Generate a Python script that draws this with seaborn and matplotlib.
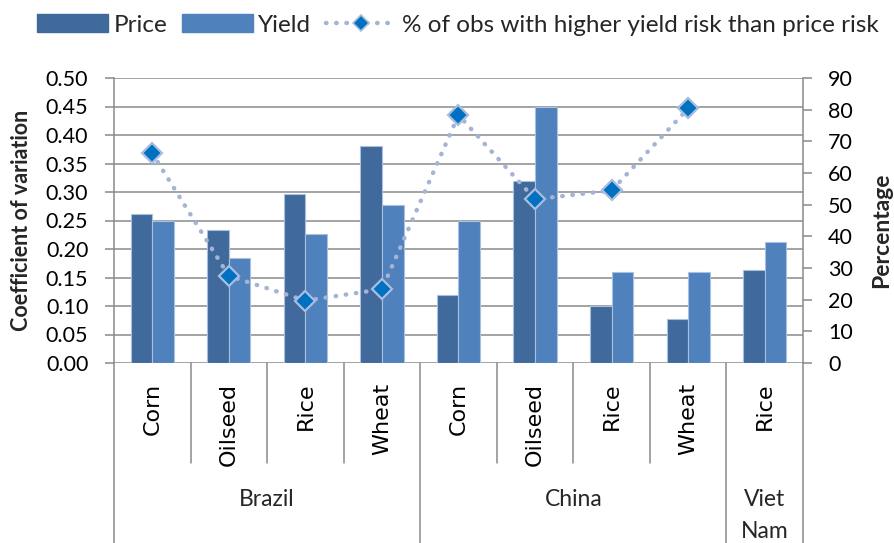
import numpy as np
import pandas as pd
import matplotlib
matplotlib.use("Agg")
import matplotlib.pyplot as plt
import matplotlib.transforms as mtransforms
from matplotlib.patches import Patch
from matplotlib.lines import Line2D
from matplotlib.font_manager import FontProperties
import seaborn as sns

# ---- data ----
countries = ["Brazil", "Brazil", "Brazil", "Brazil",
             "China", "China", "China", "China", "Viet Nam"]
crops = ["Corn", "Oilseed", "Rice", "Wheat",
         "Corn", "Oilseed", "Rice", "Wheat", "Rice"]
price_cv = [0.261, 0.233, 0.296, 0.380, 0.120, 0.320, 0.100, 0.078, 0.163]
yield_cv = [0.250, 0.184, 0.226, 0.278, 0.250, 0.450, 0.159, 0.159, 0.212]
pct_higher_yield = [66.2, 27.5, 19.7, 23.3, 78.3, 51.7, 54.5, 80.4, np.nan]
group_labels = ["Brazil", "China", "Viet\nNam"]
left_ticks = [0.00, 0.05, 0.10, 0.15, 0.20, 0.25, 0.30, 0.35, 0.40, 0.45, 0.50]
right_ticks = [0, 10, 20, 30, 40, 50, 60, 70, 80, 90]

sns.set_theme(style="white")
plt.rcParams["font.family"] = ["Lato", "DejaVu Sans"]

keys = [f"{c}|{k}" for c, k in zip(countries, crops)]
df = pd.DataFrame({
    "key": keys * 2,
    "cv": price_cv + yield_cv,
    "measure": ["Price"] * len(keys) + ["Yield"] * len(keys),
})

W, H = 895, 543
fig = plt.figure(figsize=(W / 100, H / 100), dpi=100)
ax_l, ax_r, ax_t, ax_b = 114, 803, 78, 363
ax = fig.add_axes([ax_l / W, 1 - ax_b / H, (ax_r - ax_l) / W, (ax_b - ax_t) / H])

c_price = "#40699c"
c_yield = "#4f81bd"
grid_c = "#8a8a8a"

sns.barplot(data=df, x="key", y="cv", hue="measure", order=keys,
            palette={"Price": c_price, "Yield": c_yield},
            width=0.565, dodge=True, ax=ax, legend=False,
            edgecolor="#a9c0e0", linewidth=0.8, saturation=1)

ax.set_xlim(-0.5, len(keys) - 0.5)
ax.set_ylim(0, 0.5)
ax.set_yticks(left_ticks)
ax.set_yticklabels([f"{v:.2f}" for v in left_ticks])
ax.set_xticks([])
ax.set_xlabel("")
ax.set_ylabel("")
ax.set_axisbelow(True)
ax.yaxis.grid(True, color=grid_c, linewidth=1.1)
for s in ["top", "bottom", "right"]:
    ax.spines[s].set_visible(False)
ax.spines["left"].set_color(grid_c)
ax.spines["left"].set_linewidth(1.1)
ax.tick_params(axis="y", which="both", left=True, length=6.5, width=1.1,
               color=grid_c, pad=12, labelsize=15.5, labelcolor="black")

ax2 = ax.twinx()
xpos = np.arange(len(keys))
ax2.plot(xpos, pct_higher_yield, linestyle=(0, (0.1, 2.2)), dash_capstyle="round",
         color="#a4b4d4", linewidth=3.2, marker="D", markersize=10.5,
         markerfacecolor="#0070c0", markeredgecolor="#a9bde0", markeredgewidth=1.6)
ax2.set_ylim(0, 90)
ax2.set_yticks(right_ticks)
ax2.set_yticklabels([str(v) for v in right_ticks])
ax2.grid(False)
for s in ["top", "bottom", "left"]:
    ax2.spines[s].set_visible(False)
ax2.spines["right"].set_visible(True)
ax2.spines["right"].set_color(grid_c)
ax2.spines["right"].set_linewidth(1.1)
ax2.tick_params(axis="y", which="both", right=True, length=6.5, width=1.1,
                color=grid_c, pad=11.5, labelsize=15.5, labelcolor="black")

# ---- hierarchical category axis ----
blend = mtransforms.blended_transform_factory(ax.transData, fig.transFigure)
fy = lambda px: 1 - px / H
line_kw = dict(color=grid_c, linewidth=1.1, transform=blend, clip_on=False)
dv = FontProperties(family="DejaVu Sans", size=16)

groups = []
for i, c in enumerate(countries):
    if not groups or groups[-1][0] != c:
        groups.append([c, i, i])
    else:
        groups[-1][2] = i

for i, crop in enumerate(crops):
    ax.text(i, fy(383), crop, rotation=90, ha="center", va="top",
            fontproperties=dv, transform=blend, color="black")

for gi, (g, a, b) in enumerate(groups):
    ax.add_line(Line2D([a - 0.5, a - 0.5], [fy(ax_b), fy(H)], **line_kw))
    for j in range(a + 1, b + 1):
        ax.add_line(Line2D([j - 0.5, j - 0.5], [fy(ax_b), fy(463)], **line_kw))
    lab = group_labels[gi]
    cx = (a + b) / 2
    if "\n" in lab:
        l1, l2 = lab.split("\n")
        ax.text(cx, fy(500), l1, ha="center", va="center", fontsize=16.5, transform=blend)
        ax.text(cx, fy(531), l2, ha="center", va="center", fontsize=16.5, transform=blend)
    else:
        ax.text(cx, fy(500), lab, ha="center", va="center", fontsize=16.5, transform=blend)
last = groups[-1][2] + 0.5
ax.add_line(Line2D([last, last], [fy(ax_b), fy(H)], **line_kw))

# ---- axis titles ----
fig.text(22 / W, fy(220), "Coefficient of variation", rotation=90, ha="center",
         va="center", fontsize=15.5, fontweight="bold")
fig.text(882 / W, fy(230), "Percentage", rotation=90, ha="center",
         va="center", fontsize=16.5, fontweight="bold")

# ---- legend ----
handles = [
    Patch(facecolor=c_price, edgecolor=c_price),
    Patch(facecolor=c_yield, edgecolor=c_yield),
    Line2D([], [], linestyle=(0, (0.1, 2.2)), dash_capstyle="round", color="#a4b4d4",
           linewidth=3.2, marker="D", markersize=8.5, markerfacecolor="#0070c0",
           markeredgecolor="#a9bde0", markeredgewidth=1.2),
]
fig.legend(handles, ["Price", "Yield", "% of obs with higher yield risk than price risk"],
           loc="center", bbox_to_anchor=(458 / W, fy(25)), ncol=3, frameon=False,
           fontsize=17.5, handlelength=2.9, handleheight=0.74, handletextpad=0.22,
           columnspacing=0.62, borderpad=0, borderaxespad=0)

fig.savefig("out.png", dpi=100)
